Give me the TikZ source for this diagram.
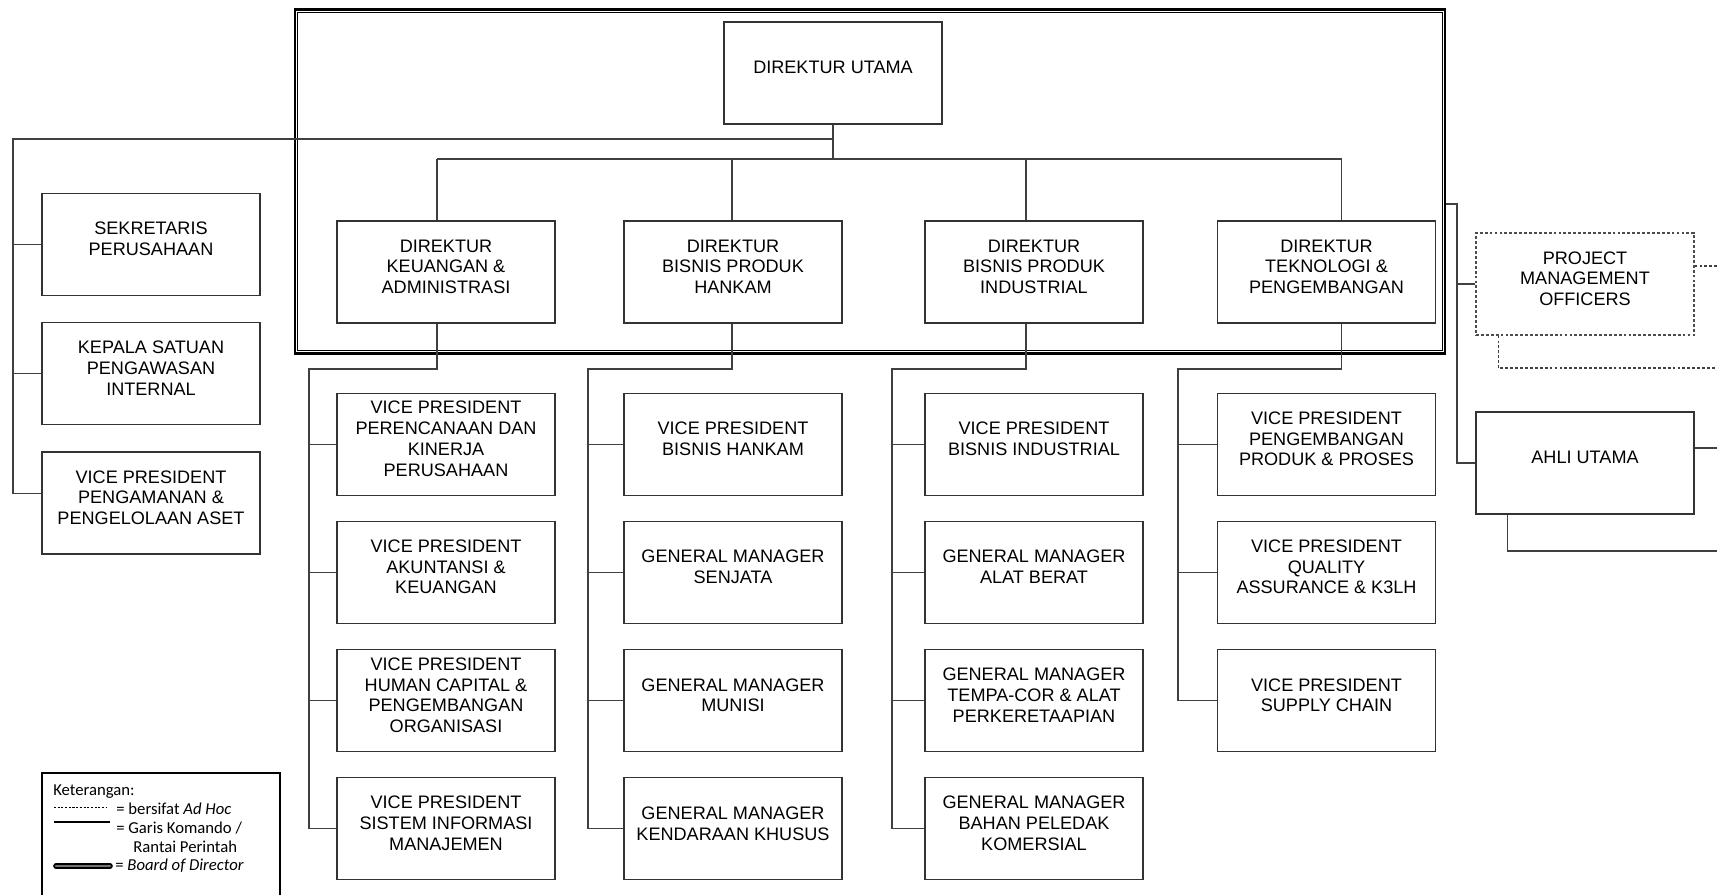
\documentclass[tikz,border=0pt]{standalone}
\usepackage{fontspec}
\setmainfont{Liberation Sans}
\newfontfamily\legendfont{Carlito}
\usetikzlibrary{positioning,calc}

\begin{document}
\begin{tikzpicture}[x=0.02cm, y=-0.02cm, node distance=0.5cm,
  unit/.style={draw=black!80, line width=0.7pt, minimum width=4.36cm, minimum height=2.04cm, align=center, inner sep=2pt, text depth=0.22cm, font=\fontsize{10.3}{11.8}\selectfont},
  adhocbox/.style={unit, draw=black!70, dash pattern=on 1.6pt off 1.2pt},
  conn/.style={draw=black!75, line width=0.6pt},
  adhoc/.style={conn, dash pattern=on 1.6pt off 1.2pt},
  note/.style={anchor=west, inner sep=0pt, font=\legendfont\fontsize{9.5}{10.6}\selectfont}]
  \useasboundingbox (0,0) rectangle (1717,894);
  \clip (0,0) rectangle (1717,894);

  % board of director frame
  \node[draw, line width=1.2pt, minimum width=23.02cm, minimum height=6.88cm] (board) at (870,181.5) {};
  \draw[line width=0.7pt] ([shift={(4,4)}]board.north west) rectangle ([shift={(-4,-4)}]board.south east);

  % direksi
  \node[unit] (dirut) at (833,73) {DIREKTUR UTAMA};
  \node[unit] (dk) at (446,272) {DIREKTUR\\KEUANGAN \&\\ADMINISTRASI};
  \node[unit] (dh) at (733,272) {DIREKTUR\\BISNIS PRODUK\\HANKAM};
  \node[unit] (di) at (1034,272) {DIREKTUR\\BISNIS PRODUK\\INDUSTRIAL};
  \node[unit] (dt) at (1326.5,272) {DIREKTUR\\TEKNOLOGI \&\\PENGEMBANGAN};

  % keuangan
  \node[unit, below=1.38cm of dk] (k1) {VICE PRESIDENT\\PERENCANAAN DAN\\KINERJA\\PERUSAHAAN};
  \node[unit, below=of k1] (k2) {VICE PRESIDENT\\AKUNTANSI \&\\KEUANGAN};
  \node[unit, below=of k2] (k3) {VICE PRESIDENT\\HUMAN CAPITAL \&\\PENGEMBANGAN\\ORGANISASI};
  \node[unit, below=of k3] (k4) {VICE PRESIDENT\\SISTEM INFORMASI\\MANAJEMEN};

  % hankam
  \node[unit, below=1.38cm of dh] (h1) {VICE PRESIDENT\\BISNIS HANKAM};
  \node[unit, below=of h1] (h2) {GENERAL MANAGER\\SENJATA};
  \node[unit, below=of h2] (h3) {GENERAL MANAGER\\MUNISI};
  \node[unit, below=of h3] (h4) {GENERAL MANAGER\\KENDARAAN KHUSUS};

  % industrial
  \node[unit, below=1.38cm of di] (i1) {VICE PRESIDENT\\BISNIS INDUSTRIAL};
  \node[unit, below=of i1] (i2) {GENERAL MANAGER\\ALAT BERAT};
  \node[unit, below=of i2] (i3) {GENERAL MANAGER\\TEMPA-COR \& ALAT\\PERKERETAAPIAN};
  \node[unit, below=of i3] (i4) {GENERAL MANAGER\\BAHAN PELEDAK\\KOMERSIAL};

  % teknologi
  \node[unit, below=1.38cm of dt] (t1) {VICE PRESIDENT\\PENGEMBANGAN\\PRODUK \& PROSES};
  \node[unit, below=of t1] (t2) {VICE PRESIDENT\\QUALITY\\ASSURANCE \& K3LH};
  \node[unit, below=of t2] (t3) {VICE PRESIDENT\\SUPPLY CHAIN};

  % staf
  \node[unit] (sekper) at (151,244.5) {SEKRETARIS\\PERUSAHAAN};
  \node[unit, below=0.52cm of sekper] (spi) {KEPALA SATUAN\\PENGAWASAN\\INTERNAL};
  \node[unit, below=0.52cm of spi] (aset) {VICE PRESIDENT\\PENGAMANAN \&\\PENGELOLAAN ASET};

  % kanan
  \node[adhocbox] (pmo) at (1585,284) {PROJECT\\MANAGEMENT\\OFFICERS};
  \node[unit] (ahli) at (1585,463) {AHLI UTAMA};

  % garis komando
  \coordinate (bus) at (833,159);
  \coordinate (lefttop) at (13,139);
  \coordinate (righttop) at (1457,204);
  \coordinate (kx) at ($(dk.north)+(-9,0)$);
  \coordinate (hx) at ($(dh.north)+(-1,0)$);
  \coordinate (ix) at ($(di.north)+(-8,0)$);
  \coordinate (tx) at ($(dt.north)+(15,0)$);
  \coordinate (kcol) at (309,369);
  \coordinate (hcol) at (588,369);
  \coordinate (icol) at (892,369);
  \coordinate (tcol) at (1178,369);

  \draw[conn] (dirut.south) -- (dirut.south |- bus);
  \draw[conn] (kx |- bus) -- (tx |- bus);
  \foreach \d/\x in {dk/kx, dh/hx, di/ix, dt/tx}
    \draw[conn] (\x |- bus) -- (\x |- \d.north);
  \foreach \d/\x/\c/\last in {dk/kx/kcol/k4, dh/hx/hcol/h4, di/ix/icol/i4, dt/tx/tcol/t3}
    \draw[conn] (\x |- \d.south) |- (\c) |- (\last.west);
  \foreach \c/\n in {kcol/k1, kcol/k2, kcol/k3, hcol/h1, hcol/h2, hcol/h3,
                     icol/i1, icol/i2, icol/i3, tcol/t1, tcol/t2}
    \draw[conn] (\c |- \n.west) -- (\n.west);

  \draw[conn] (dirut.south |- lefttop) -- (lefttop) |- ($(aset.west)+(0,-9)$);
  \foreach \n in {sekper, spi}
    \draw[conn] (lefttop |- \n.west) -- (\n.west);

  \coordinate (pmoout) at (1717,266);
  \coordinate (pmoend) at (1717,368);
  \coordinate (ahliout) at (1717,448);
  \coordinate (ahliend) at (1717,551);
  \draw[conn] (board.east |- righttop) -- (righttop) |- (ahli.west);
  \draw[conn] (righttop |- pmo.west) -- (pmo.west);
  \draw[adhoc] (pmo.east |- pmoout) -- (pmoout);
  \draw[adhoc] ($(pmo.south west)+(23,0)$) |- (pmoend);
  \draw[conn] (ahli.east |- ahliout) -- (ahliout);
  \draw[conn] ($(ahli.south west)+(32,0)$) |- (ahliend);

  % keterangan
  \draw[line width=0.6pt] (42,773) rectangle (280,930);
  \node[note] (ket) at (53,792) {Keterangan:};
  \draw[line width=0.5pt, dash pattern=on 1.2pt off 0.9pt] (54,807) -- (106,807);
  \node[note] (ketadhoc) at (116,809) {= bersifat \textit{Ad Hoc}};
  \draw[line width=0.6pt] (54,822) -- (110,822);
  \node[note] (ketgaris) at (116,828) {= Garis Komando /};
  \node[note] (ketrantai) at (133,847) {Rantai Perintah};
  \draw[line width=3.2pt, line cap=round] (56,866) -- (110,866);
  \draw[line width=1.5pt, line cap=round, black!55] (56,866) -- (110,866);
  \node[note] (ketboard) at (115,866) {= \textit{Board of Director}};
\end{tikzpicture}
\end{document}
